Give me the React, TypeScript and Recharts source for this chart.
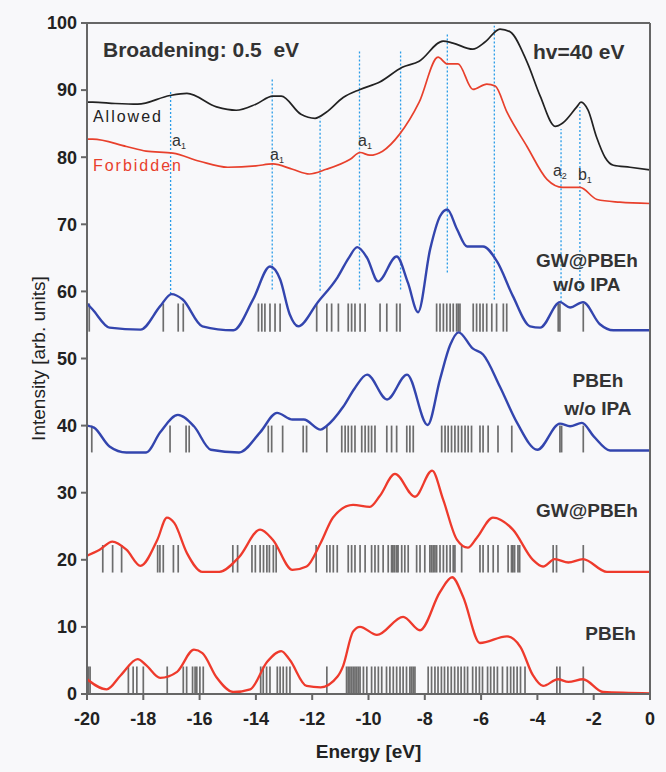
import { ComposedChart, Line, XAxis, YAxis, ReferenceLine, ReferenceDot } from 'recharts';

const FONT = '"Liberation Sans", Arial, Helvetica, sans-serif';

const xTicks = [-20, -18, -16, -14, -12, -10, -8, -6, -4, -2, 0];
const yTicks = [0, 10, 20, 30, 40, 50, 60, 70, 80, 90, 100];

// experiment, hv = 40 eV
const allowedE = [-20, -19.8, -19.0, -18.2, -17.05, -16.45, -15.4, -14.7, -14.0, -13.4, -13.1, -12.4, -11.9, -11.5, -10.9, -10.3, -9.6, -8.8, -8.2, -7.35, -7.0, -6.3, -5.85, -5.33, -4.97, -4.37, -3.9, -3.37, -3.1, -2.6, -2.45, -2.2, -1.9, -1.6, -1.3, -0.71, 0];
const allowedI = [88.2, 88.2, 88.0, 87.9, 89.2, 89.5, 87.5, 87.0, 87.9, 89.1, 89.1, 86.4, 85.8, 86.7, 88.9, 90.1, 91.2, 93.4, 94.3, 97.3, 97.0, 96.1, 97.2, 99.1, 98.7, 94.2, 89.1, 84.6, 85.1, 87.5, 88.2, 87.0, 83.0, 80.0, 78.8, 78.5, 78.1];

const forbiddenE = [-20, -19.8, -18.6, -17.9, -16.95, -16.0, -15.0, -14.0, -13.4, -12.7, -12.1, -11.5, -10.65, -10.3, -9.95, -9.5, -8.9, -8.2, -7.53, -7.2, -6.82, -6.29, -5.8, -5.5, -5.08, -4.37, -3.66, -3.1, -2.49, -1.88, -1.07, 0];
const forbiddenI = [82.7, 82.7, 81.6, 80.9, 80.6, 79.4, 78.5, 78.7, 79.0, 78.2, 77.5, 78.2, 79.7, 80.7, 80.3, 80.9, 83.4, 88.2, 94.9, 93.9, 93.9, 90.1, 90.9, 90.6, 86.7, 81.6, 76.7, 75.5, 75.5, 73.7, 73.3, 73.1];

// calculated spectra
const gwNoIpaE = [-20, -19.8, -19.2, -18.1, -17.4, -17.0, -16.6, -15.9, -14.8, -14.1, -13.5, -13.14, -12.8, -12.5, -11.8, -11.1, -10.7, -10.4, -10.05, -9.66, -9.0, -8.6, -8.24, -7.81, -7.46, -7.2, -6.86, -6.5, -5.93, -5.44, -4.87, -4.26, -3.9, -3.2, -2.84, -2.38, -1.78, -1.3, 0];
const gwNoIpaI = [58.2, 57.3, 54.6, 54.3, 57.8, 59.6, 58.8, 54.8, 54.2, 58.8, 63.7, 61.8, 56.6, 54.8, 58.4, 62.1, 65.0, 66.6, 65.0, 61.5, 65.2, 61.3, 56.9, 66.3, 71.2, 72.2, 69.3, 66.7, 66.7, 64.5, 59.3, 54.8, 54.6, 58.4, 57.6, 58.4, 55.1, 54.2, 54.2];

const pbehNoIpaE = [-20, -19.75, -19.2, -18.6, -17.9, -17.4, -16.77, -16.2, -15.6, -14.6, -13.85, -13.25, -12.7, -12.3, -11.7, -11.5, -10.9, -10.5, -10.05, -9.34, -8.63, -7.9, -7.46, -7.1, -6.8, -6.3, -5.93, -5.33, -4.72, -4.0, -3.2, -2.84, -2.42, -2.0, -1.42, 0];
const pbehNoIpaI = [40.0, 39.7, 36.9, 36.0, 36.0, 39.0, 41.6, 39.9, 36.4, 36.0, 39.0, 41.9, 40.9, 40.9, 39.4, 39.9, 42.8, 45.5, 47.6, 43.9, 47.6, 40.1, 46.9, 52.0, 53.9, 51.5, 50.6, 45.8, 40.4, 36.4, 40.3, 39.9, 40.4, 38.4, 36.3, 36.3];

const gwE = [-20, -19.55, -19.1, -18.6, -18.1, -17.5, -17.16, -16.9, -16.45, -15.9, -15.3, -14.6, -13.85, -13.4, -12.7, -12.2, -11.7, -11.26, -10.55, -9.95, -9.6, -9.06, -8.35, -7.74, -7.35, -6.86, -6.47, -6.15, -5.58, -4.87, -4.16, -3.8, -3.38, -2.9, -2.38, -1.53, 0];
const gwI = [20.6, 21.5, 22.7, 21.5, 19.1, 23.0, 26.3, 25.5, 21.0, 18.2, 18.2, 20.4, 24.5, 23.0, 18.5, 19.0, 22.5, 26.3, 28.2, 27.9, 29.5, 32.8, 29.4, 33.3, 29.0, 23.0, 21.8, 23.3, 26.3, 24.5, 20.0, 19.0, 20.1, 19.6, 20.1, 18.2, 18.2];

const pbehE = [-20, -19.3, -18.8, -18.2, -17.9, -17.4, -16.8, -16.2, -15.9, -15.4, -14.8, -14.2, -13.6, -13.1, -12.8, -12.2, -11.7, -11.1, -10.9, -10.55, -10.3, -9.7, -8.77, -8.17, -7.46, -7.03, -6.64, -6.04, -5.08, -4.6, -4.16, -3.8, -3.27, -2.9, -2.38, -1.67, 0];
const pbehI = [2.2, 0.7, 2.8, 5.2, 4.3, 2.4, 3.3, 6.6, 6.1, 2.5, 0.3, 0.7, 4.8, 6.4, 5.1, 1.2, 1.0, 2.6, 4.2, 9.3, 10.0, 8.8, 11.5, 9.5, 15.2, 17.4, 14.5, 7.6, 8.6, 7.0, 2.8, 1.2, 2.2, 1.8, 2.2, 0.3, 0.1];

// eigenvalue sticks (eV) and their [bottom, top] in intensity units
const gwNoIpaSticks = [-19.92, -17.29, -16.76, -16.58, -13.91, -13.79, -13.68, -13.5, -13.32, -13.14, -11.84, -11.48, -11.31, -11.07, -10.72, -10.6, -10.48, -10.3, -10.12, -9.59, -9.35, -9.0, -8.88, -7.58, -7.46, -7.34, -7.22, -7.1, -6.99, -6.87, -6.81, -6.75, -6.28, -6.16, -6.04, -5.93, -5.8, -5.62, -5.45, -5.21, -5.09, -3.26, -3.2, -2.37];
const gwNoIpaSpan = [54, 58.2];

const pbehNoIpaSticks = [-19.83, -17.05, -16.48, -16.37, -13.56, -13.44, -13.05, -12.32, -12.2, -11.48, -10.95, -10.83, -10.72, -10.6, -10.48, -10.24, -10.12, -10.0, -9.89, -9.77, -9.35, -9.18, -9.0, -8.64, -8.53, -8.41, -7.4, -7.28, -7.17, -7.05, -6.93, -6.81, -6.69, -6.57, -6.46, -6.34, -6.04, -5.93, -5.75, -5.4, -4.91, -3.2, -3.14, -2.37];
const pbehNoIpaSpan = [36, 40];

const gwSticks = [-19.44, -19.09, -18.77, -17.49, -17.41, -17.29, -16.93, -16.76, -14.82, -14.65, -14.14, -14.02, -13.85, -13.73, -13.61, -13.52, -13.38, -13.28, -11.86, -11.48, -11.37, -11.25, -11.11, -10.72, -10.6, -10.48, -10.3, -10.12, -9.89, -9.77, -9.65, -9.48, -9.3, -9.18, -9.13, -9.07, -9.0, -8.95, -8.82, -8.71, -8.59, -8.29, -8.17, -8.0, -7.82, -7.76, -7.7, -7.64, -7.58, -7.46, -7.34, -7.22, -7.1, -6.99, -6.93, -6.69, -6.04, -5.93, -5.75, -5.57, -5.4, -5.04, -4.92, -4.87, -4.81, -4.69, -4.63, -3.44, -3.32, -2.37];
const gwSpan = [18.1, 22.2];

const pbehSticks = [-19.95, -19.89, -18.53, -18.36, -18.23, -18.0, -17.15, -16.58, -16.46, -16.25, -16.16, -16.1, -15.99, -15.87, -13.83, -13.74, -13.62, -13.5, -13.24, -13.14, -13.03, -12.91, -12.79, -11.48, -10.78, -10.72, -10.66, -10.6, -10.54, -10.48, -10.42, -10.36, -10.3, -10.18, -10.06, -9.89, -9.77, -9.65, -9.53, -9.36, -9.24, -9.12, -9.0, -8.88, -8.77, -8.65, -8.53, -8.47, -8.41, -8.35, -7.88, -7.76, -7.64, -7.53, -7.41, -7.3, -7.18, -7.06, -6.94, -6.82, -6.71, -6.59, -6.48, -6.3, -6.18, -6.06, -5.95, -5.77, -5.66, -5.54, -5.42, -5.24, -5.07, -4.95, -4.84, -4.72, -4.6, -4.44, -3.31, -3.2, -2.37];
const pbehSpan = [0, 4.1];

// dotted guide lines: energy, low end, high end
const guideE = [-17.03, -13.42, -11.72, -10.32, -8.86, -7.2, -5.53, -3.16, -2.49];
const guideLow = [59.6, 60.3, 60.1, 60.3, 60.3, 62.8, 58.8, 58.4, 59.9];
const guideHigh = [89.9, 91.8, 85.8, 95.8, 95.8, 98.4, 99.6, 84.2, 87.5];

const pts = (e: number[], v: number[]) => e.map((x, i) => ({ e: x, v: v[i] }));

const sticks = (list: number[], span: number[], key: string) =>
  list.map((e, i) => (
    <ReferenceLine
      key={key + i}
      segment={[{ x: e, y: span[0] }, { x: e, y: span[1] }]}
      stroke="#4a4a4a"
      strokeOpacity={0.8}
      strokeWidth={1.7}
    />
  ));

const note = (e: number, v: number, text: string, opts: any = {}) => (
  <ReferenceDot
    key={text + e + v}
    x={e}
    y={v}
    r={0}
    shape={(p: any) => (
      <text
        x={p.cx}
        y={p.cy}
        fill={opts.color || '#333'}
        fontSize={opts.size || 19}
        fontWeight={opts.weight || 700}
        fontFamily={FONT}
        textAnchor={opts.anchor || 'start'}
        letterSpacing={opts.spacing || 0}
        style={{ whiteSpace: 'pre' }}
      >
        {text}
        {opts.sub && (
          <tspan fontSize={9} dy={3}>{opts.sub}</tspan>
        )}
      </text>
    )}
  />
);

export default function App() {
  return (
    <div style={{ position: 'absolute', left: 0, top: 0, width: 666, height: 772, background: '#f8f8fa' }}>
      <ComposedChart width={666} height={772} margin={{ top: 23, right: 16, bottom: 0, left: 0 }}>
        <XAxis
          dataKey="e"
          type="number"
          domain={[-20, 0]}
          ticks={xTicks}
          allowDataOverflow
          height={78}
          stroke="#666"
          strokeWidth={2}
          tickSize={6}
          tickMargin={12}
          tick={{ fontSize: 18, fontWeight: 700, fill: '#222', fontFamily: FONT }}
          label={{ value: 'Energy [eV]', position: 'insideBottom', offset: 14, fontSize: 19, fontWeight: 700, fill: '#222', fontFamily: FONT }}
        />
        <XAxis
          xAxisId="top"
          orientation="top"
          type="number"
          domain={[-20, 0]}
          ticks={xTicks}
          mirror
          stroke="#666"
          strokeWidth={2}
          tickSize={6}
          tickFormatter={() => ''}
        />
        <YAxis
          type="number"
          domain={[0, 100]}
          ticks={yTicks}
          width={87}
          stroke="#666"
          strokeWidth={2}
          tickSize={6}
          tickMargin={4}
          tick={{ fontSize: 18, fontWeight: 700, fill: '#222', fontFamily: FONT }}
          label={{
            content: (p: any) => {
              const vb = p.viewBox;
              const cx = 38;
              const cy = vb.y + vb.height / 2;
              return (
                <text x={cx} y={cy} transform={`rotate(-90, ${cx}, ${cy})`} textAnchor="middle" dominantBaseline="central" fontSize={19} fill="#222" fontFamily={FONT}>
                  Intensity [arb. units]
                </text>
              );
            },
          }}
        />
        <YAxis
          yAxisId="right"
          orientation="right"
          type="number"
          domain={[0, 100]}
          ticks={yTicks}
          mirror
          stroke="#666"
          strokeWidth={2}
          tickSize={6}
          tickFormatter={() => ''}
        />

        {guideE.map((e, i) => (
          <ReferenceLine
            key={'g' + i}
            segment={[{ x: e, y: guideLow[i] }, { x: e, y: guideHigh[i] }]}
            stroke="#2a9de8"
            strokeWidth={1.3}
            strokeDasharray="2 2"
          />
        ))}

        {sticks(gwNoIpaSticks, gwNoIpaSpan, 'a')}
        {sticks(pbehNoIpaSticks, pbehNoIpaSpan, 'b')}
        {sticks(gwSticks, gwSpan, 'c')}
        {sticks(pbehSticks, pbehSpan, 'd')}

        <Line data={pts(allowedE, allowedI)} dataKey="v" type="monotone" stroke="#222" strokeWidth={1.7} dot={false} isAnimationActive={false} />
        <Line data={pts(forbiddenE, forbiddenI)} dataKey="v" type="monotone" stroke="#e8402c" strokeWidth={1.7} dot={false} isAnimationActive={false} />
        <Line data={pts(gwNoIpaE, gwNoIpaI)} dataKey="v" type="monotone" stroke="#3345ae" strokeWidth={2.4} dot={false} isAnimationActive={false} />
        <Line data={pts(pbehNoIpaE, pbehNoIpaI)} dataKey="v" type="monotone" stroke="#3345ae" strokeWidth={2.4} dot={false} isAnimationActive={false} />
        <Line data={pts(gwE, gwI)} dataKey="v" type="monotone" stroke="#ee3a2c" strokeWidth={2.3} dot={false} isAnimationActive={false} />
        <Line data={pts(pbehE, pbehI)} dataKey="v" type="monotone" stroke="#ee3a2c" strokeWidth={2.3} dot={false} isAnimationActive={false} />

        {note(-19.43, 94.9, 'Broadening: 0.5  eV', { size: 21 })}
        {note(-4.16, 94.6, 'hv=40 eV', { size: 21 })}
        {note(-19.79, 85.2, 'Allowed', { size: 16, weight: 400, spacing: 2, color: '#222' })}
        {note(-19.79, 77.9, 'Forbidden', { size: 16, weight: 400, spacing: 2, color: '#e8402c' })}
        {note(-16.98, 81.6, 'a', { size: 16, weight: 400, sub: '1', color: '#333' })}
        {note(-13.5, 79.6, 'a', { size: 16, weight: 400, sub: '1', color: '#333' })}
        {note(-10.37, 81.6, 'a', { size: 16, weight: 400, sub: '1', color: '#333' })}
        {note(-3.45, 77.2, 'a', { size: 16, weight: 400, sub: '2', color: '#333' })}
        {note(-2.56, 76.6, 'b', { size: 16, weight: 400, sub: '1', color: '#333' })}
        {note(-2.24, 63.7, 'GW@PBEh', { anchor: 'middle' })}
        {note(-2.24, 60.0, 'w/o IPA', { anchor: 'middle' })}
        {note(-1.85, 45.8, 'PBEh', { anchor: 'middle' })}
        {note(-1.85, 41.6, 'w/o IPA', { anchor: 'middle' })}
        {note(-2.24, 26.4, 'GW@PBEh', { anchor: 'middle' })}
        {note(-1.4, 8.1, 'PBEh', { anchor: 'middle' })}
      </ComposedChart>
    </div>
  );
}
